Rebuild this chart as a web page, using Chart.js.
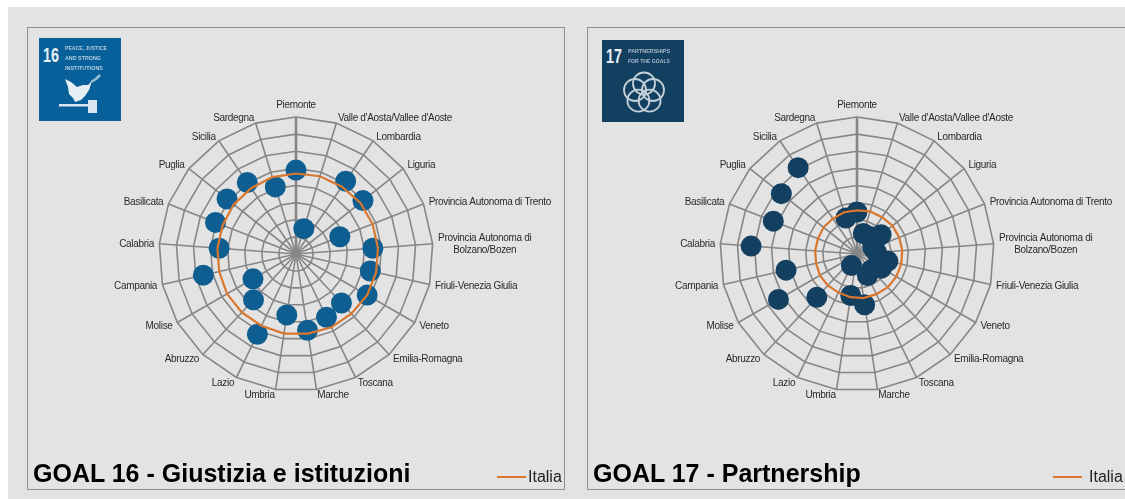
<!DOCTYPE html>
<html>
<head>
<meta charset="utf-8">
<script src="https://cdn.jsdelivr.net/npm/chart.js@4"></script>
<style>
html,body {margin:0;padding:0;background:#fff;}
#page {position:relative;width:1125px;height:499px;overflow:hidden;}
#sheet {position:absolute;left:8px;top:7px;width:1117px;height:492px;background:#e3e3e3;}
.panel {position:absolute;top:27px;height:463px;box-sizing:border-box;border:1px solid #8f8f8f;}
.panel canvas {position:absolute;left:0;top:0;}
.title {position:absolute;font:bold 25px "Liberation Sans",Arial,sans-serif;color:#000;white-space:nowrap;top:431px;left:5px;}
.legend {position:absolute;top:440px;font:16px "Liberation Sans",Arial,sans-serif;color:#222;}
.legend i {position:absolute;top:8px;width:29px;height:2px;background:#d9772f;}
.icon {position:absolute;left:11px;top:10px;}
</style>
</head>
<body>
<div id="page">
 <div id="sheet"></div>
 <div class="panel" style="left:27px;width:538px;">
  <canvas id="goal16ID" width="536" height="461"></canvas>
  <svg class="icon" width="82" height="83" viewBox="0 0 82 83">
   <rect width="82" height="83" fill="#07609a"/>
   <text x="4" y="24" font-family="Liberation Sans" font-weight="bold" font-size="20" fill="#e8eef4" textLength="16" lengthAdjust="spacingAndGlyphs">16</text>
   <g font-family="Liberation Sans" font-size="6" fill="#b4cde0" font-weight="bold" style="filter:blur(0.4px)">
    <text x="26" y="12" textLength="42" lengthAdjust="spacingAndGlyphs">PEACE, JUSTICE</text>
    <text x="26" y="22" textLength="36" lengthAdjust="spacingAndGlyphs">AND STRONG</text>
    <text x="26" y="32" textLength="38" lengthAdjust="spacingAndGlyphs">INSTITUTIONS</text>
   </g>
   <path d="M26 41 L32 44 L38 49 L44 47 L49 47 L53 43 L50 52 L46 58 L42 62 L36 64 L34 60 L30 56 L29 49 Z" fill="#e6eef4"/>
   <path d="M52 44 L57 41 L61 37" stroke="#9fbcd3" stroke-width="2.5" fill="none"/>
   <rect x="20" y="66" width="29" height="2.5" fill="#dbe7f0"/>
   <rect x="49" y="62" width="9" height="13" fill="#dbe7f0"/>
  </svg>
  <div class="title">GOAL 16 - Giustizia e istituzioni</div>
  <div class="legend" style="left:500px;"><i style="left:-31px;"></i>Italia</div>
 </div>
 <div class="panel" style="left:587px;width:540px;">
  <canvas id="goal17ID" width="538" height="461"></canvas>
  <svg class="icon" style="left:14px;top:12px;" width="82" height="82" viewBox="0 0 82 82">
   <rect width="82" height="82" fill="#133f60"/>
   <text x="4" y="23" font-family="Liberation Sans" font-weight="bold" font-size="20" fill="#e8eef4" textLength="16" lengthAdjust="spacingAndGlyphs">17</text>
   <g font-family="Liberation Sans" font-size="6" fill="#a9bccb" font-weight="bold" style="filter:blur(0.4px)">
    <text x="26" y="13" textLength="42" lengthAdjust="spacingAndGlyphs">PARTNERSHIPS</text>
    <text x="26" y="23" textLength="42" lengthAdjust="spacingAndGlyphs">FOR THE GOALS</text>
   </g>
   <g fill="none" stroke="#c5d0d9" stroke-width="1.8">
    <circle cx="42" cy="43.5" r="11"/>
    <circle cx="51" cy="50" r="11"/>
    <circle cx="47.6" cy="60.7" r="11"/>
    <circle cx="36.4" cy="60.7" r="11"/>
    <circle cx="33" cy="50" r="11"/>
   </g>
  </svg>
  <div class="title">GOAL 17 - Partnership</div>
  <div class="legend" style="left:501px;"><i style="left:-36px;"></i>Italia</div>
 </div>
</div>
<script>
var regioni=['Piemonte',"Valle d'Aosta/Vallee d'Aoste",'Lombardia','Liguria','Provincia Autonoma di Trento',['Provincia Autonoma di','Bolzano/Bozen'],'Friuli-Venezia Giulia','Veneto','Emilia-Romagna','Toscana','Marche','Umbria','Lazio','Abruzzo','Molise','Campania','Calabria','Basilicata','Puglia','Sicilia','Sardegna'];
var goal16=[98,31,103,100,55,90,89,96,78,82,90,72,104,73,58,111,90,101,103,101,82];
var italia16=[94,95,95,96,96,96,96,96,95,95,94,94,93,93,93,92,92,92,93,93,94];
var goal17=[49,25,25,36,20,23,37,33,25,28,60,49,15,69,106,85,124,105,113,122,44];
var italia17=[51,52,52,53,53,53,53,53,53,52,52,51,50,50,50,49,49,49,50,50,51];
var scaleMin=0;
var scaleMax=160;
var scaleStep=20;

var gridColor='#868686';
var labelColor='#2b2b2b';

// excel style labels: just off the spoke tip, vertically centred on it
var spokeLabels={
 id:'spokeLabels',
 afterDraw:function(chart) {
  var scale=chart.scales.r;
  var c=chart.ctx;
  c.save();
  c.font='10px "Liberation Sans", Arial, sans-serif';
  c.letterSpacing='-0.32px';
  c.fillStyle=labelColor;
  c.textBaseline='middle';
  var names=chart.data.labels;
  for (var i=0; i<names.length; i++) {
   var pos=scale.getPointPosition(i,scale.drawingArea+5.5);
   var lines=Array.isArray(names[i]) ? names[i] : [names[i]];
   if (i==0) {
    c.textAlign='center';
    c.fillText(lines[0],pos.x,pos.y-6);
    continue;
   }
   var widest=0;
   for (var j=0; j<lines.length; j++) {widest=Math.max(widest,c.measureText(lines[j]).width);}
   var right=i>names.length/2;
   var y=pos.y+0.5-(lines.length-1)*6;
   for (var j=0; j<lines.length; j++) {
    c.textAlign='center';
    var x=right ? pos.x-widest/2 : pos.x+widest/2;
    if (lines.length==1) {c.textAlign=right ? 'right' : 'left'; x=pos.x;}
    c.fillText(lines[j],x,y+j*12);
   }
  }
  c.restore();
 }
};

function radar(id,values,italia,pointColor) {
 new Chart(document.getElementById(id).getContext('2d'),{
  type:'radar',
  plugins:[spokeLabels],
  data:{labels:regioni,datasets:[
   {label:'Italia',data:italia,borderColor:'#d9772f',borderWidth:2.2,pointRadius:0,fill:false,tension:0,order:1},
   {label:'Regioni',data:values,showLine:false,pointRadius:10.5,pointBackgroundColor:pointColor,pointBorderWidth:0,fill:false,order:2}
  ]},
  options:{
   responsive:false,animation:false,
   layout:{padding:{top:89,bottom:97,left:0,right:0}},
   plugins:{legend:{display:false},title:{display:false},tooltip:{enabled:false}},
   scales:{r:{
    min:scaleMin,max:scaleMax,
    ticks:{display:false,stepSize:scaleStep},
    pointLabels:{display:false},
    grid:{color:gridColor,lineWidth:1.6},
    angleLines:{color:gridColor,lineWidth:function(ctx) {return ctx.index==0 ? 2.6 : 1.6;}}
   }}
  }
 });
}
radar('goal16ID',goal16,italia16,'#0f5e91');
radar('goal17ID',goal17,italia17,'#133f60');
</script>
</body>
</html>
